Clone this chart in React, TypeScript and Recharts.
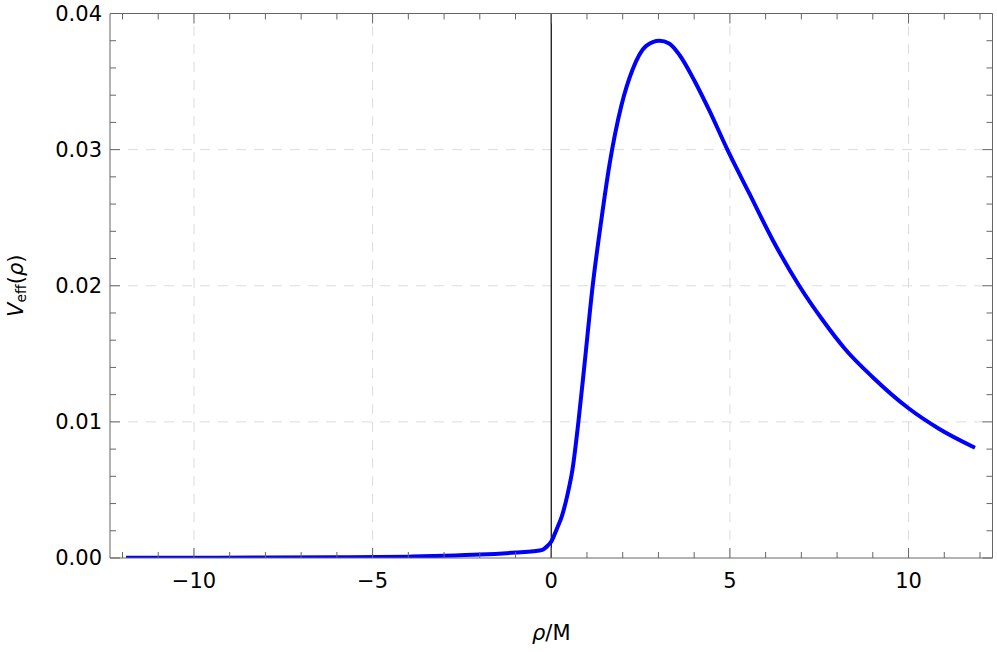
import React from "react";
import {
  LineChart,
  Line,
  XAxis,
  YAxis,
  ReferenceLine,
} from "recharts";

// values
const rho = [
  -11.9, -10, -8, -6, -4, -3, -2, -1, -0.5, -0.25, -0.1, 0, 0.15, 0.3, 0.45,
  0.6, 0.76, 0.93, 1.16, 1.4, 1.63, 1.96, 2.28, 2.65, 3.03, 3.3, 3.59, 4.0,
  4.42, 4.93, 5.54, 6.19, 6.94, 7.59, 8.24, 8.99, 10, 10.85, 11.86,
];
const veff = [
  0.00001, 0.00002, 0.00003, 0.00005, 0.0001, 0.00016, 0.00025, 0.0004,
  0.0005, 0.0006, 0.0009, 0.0012, 0.0021, 0.0031, 0.0046, 0.0066, 0.01,
  0.0142, 0.02, 0.0248, 0.0289, 0.0332, 0.0359, 0.0376, 0.038, 0.0378, 0.03695,
  0.0351, 0.0329, 0.03, 0.0268, 0.0234, 0.02, 0.0175, 0.0153, 0.0133, 0.011,
  0.0095, 0.0081,
];

const xTicks = [
  -12, -11, -10, -9, -8, -7, -6, -5, -4, -3, -2, -1, 0, 1, 2, 3, 4, 5, 6, 7, 8,
  9, 10, 11, 12,
];
const xMajor = [-10, -5, 0, 5, 10];
const yTicks = [
  0, 0.002, 0.004, 0.006, 0.008, 0.01, 0.012, 0.014, 0.016, 0.018, 0.02, 0.022,
  0.024, 0.026, 0.028, 0.03, 0.032, 0.034, 0.036, 0.038, 0.04,
];
const yMajor = [0, 0.01, 0.02, 0.03, 0.04];
const xGrid = [-10, -5, 5, 10];
const yGrid = [0.01, 0.02, 0.03];

const data = rho.map((r, i) => ({ rho: r, v: veff[i] }));

const FONT = "'DejaVu Sans', sans-serif";
const FRAME = "#666";
const isMajorX = (v: number) => xMajor.some((m) => Math.abs(m - v) < 1e-9);
const isMajorY = (v: number) => yMajor.some((m) => Math.abs(m - v) < 1e-9);
const fmtX = (v: number) => (v < 0 ? "\u2212" + Math.abs(v) : String(v));

function BottomTick(props: any) {
  const { x, y, payload } = props;
  const major = isMajorX(payload.value);
  return (
    <g>
      <line x1={x} x2={x} y1={y} y2={y - (major ? 10 : 6)} stroke={FRAME} />
      {major && (
        <text
          x={x}
          y={y + 23}
          textAnchor="middle"
          dominantBaseline="central"
          fontSize={21}
          fontFamily={FONT}
          fill="#000"
        >
          {fmtX(payload.value)}
        </text>
      )}
    </g>
  );
}

function TopTick(props: any) {
  const { x, y, payload } = props;
  const major = isMajorX(payload.value);
  return <line x1={x} x2={x} y1={y} y2={y + (major ? 10 : 6)} stroke={FRAME} />;
}

function LeftTick(props: any) {
  const { x, y, payload } = props;
  const major = isMajorY(payload.value);
  return (
    <g>
      <line x1={x} x2={x + (major ? 10 : 6)} y1={y} y2={y} stroke={FRAME} />
      {major && (
        <text
          x={x - 8}
          y={y}
          textAnchor="end"
          dominantBaseline="central"
          fontSize={21}
          fontFamily={FONT}
          fill="#000"
        >
          {payload.value.toFixed(2)}
        </text>
      )}
    </g>
  );
}

function RightTick(props: any) {
  const { x, y, payload } = props;
  const major = isMajorY(payload.value);
  return <line x1={x} x2={x - (major ? 10 : 6)} y1={y} y2={y} stroke={FRAME} />;
}

function XTitle(props: any) {
  const vb = props.viewBox;
  return (
    <text
      x={vb.x + vb.width / 2}
      y={vb.y + 75}
      textAnchor="middle"
      dominantBaseline="central"
      fontSize={21}
      fontFamily={FONT}
      fill="#000"
    >
      <tspan fontStyle="italic">ρ</tspan>
      <tspan>/M</tspan>
    </text>
  );
}

function YTitle(props: any) {
  const vb = props.viewBox;
  const cx = 16;
  const cy = vb.y + vb.height / 2;
  return (
    <text
      x={cx}
      y={cy}
      textAnchor="middle"
      dominantBaseline="central"
      fontSize={21}
      fontFamily={FONT}
      fill="#000"
      transform={`rotate(-90, ${cx}, ${cy})`}
    >
      <tspan fontStyle="italic">V</tspan>
      <tspan fontSize={14} dy={5}>eff</tspan>
      <tspan dy={-5}>(</tspan>
      <tspan fontStyle="italic">ρ</tspan>
      <tspan>)</tspan>
    </text>
  );
}

export default function App() {
  return (
    <div style={{ position: "absolute", left: 0, top: 0, background: "#fff" }}>
      <LineChart
        width={997}
        height={652}
        data={data}
        margin={{ top: 0, right: 0, bottom: 0, left: 0 }}
      >
        <XAxis
          dataKey="rho"
          type="number"
          domain={[-12.35, 12.35]}
          ticks={xTicks}
          interval={0}
          allowDataOverflow
          height={94}
          tickSize={0}
          tickMargin={0}
          tickLine={false}
          axisLine={{ stroke: FRAME }}
          tick={<BottomTick />}
          label={{ content: <XTitle /> }}
        />
        <XAxis
          xAxisId="top"
          orientation="top"
          dataKey="rho"
          type="number"
          domain={[-12.35, 12.35]}
          ticks={xTicks}
          interval={0}
          allowDataOverflow
          height={13.5}
          tickSize={0}
          tickMargin={0}
          tickLine={false}
          axisLine={{ stroke: FRAME }}
          tick={<TopTick />}
        />
        <YAxis
          type="number"
          domain={[0, 0.04]}
          ticks={yTicks}
          interval={0}
          allowDataOverflow
          width={110}
          tickSize={0}
          tickMargin={0}
          tickLine={false}
          axisLine={{ stroke: FRAME }}
          tick={<LeftTick />}
          label={{ content: <YTitle /> }}
        />
        <YAxis
          yAxisId="right"
          orientation="right"
          type="number"
          domain={[0, 0.04]}
          ticks={yTicks}
          interval={0}
          allowDataOverflow
          width={4.5}
          tickSize={0}
          tickMargin={0}
          tickLine={false}
          axisLine={{ stroke: FRAME }}
          tick={<RightTick />}
        />
        {xGrid.map((g) => (
          <ReferenceLine
            key={"gx" + g}
            x={g}
            stroke="#dcdcdc"
            strokeDasharray="10 8"
          />
        ))}
        {yGrid.map((g) => (
          <ReferenceLine
            key={"gy" + g}
            y={g}
            stroke="#dcdcdc"
            strokeDasharray="10 8"
          />
        ))}
        <ReferenceLine x={0} stroke="#000" strokeWidth={1.2} />
        <Line
          type="monotone"
          dataKey="v"
          stroke="#0000ff"
          strokeWidth={4}
          dot={false}
          isAnimationActive={false}
        />
      </LineChart>
    </div>
  );
}
